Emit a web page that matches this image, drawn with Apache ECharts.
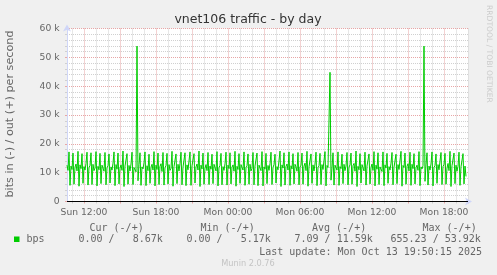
<!DOCTYPE html>
<html><head><meta charset="utf-8">
<script src="https://cdn.jsdelivr.net/npm/echarts@6/dist/echarts.min.js"></script>
<style>html,body{margin:0;padding:0;background:#F0F0F0}#c{width:497px;height:275px}</style>
</head><body><div id="c"></div>
<script>
// time in minutes since Sun 00:00
const startMinute = 635;   // Sun 10:35
const stepMinutes = 5;
const axisEndMinute = 2640; // Mon 20:00
// out traffic, k bits per second, one value per 5-minute step
const outK = [
12.6,10.8,17.2,5.6,12.3,11.1,16.8,6.0,11.9,13.0,10.6,17.4,5.3,12.7,11.4,16.6,6.3,12.1,10.9,13.2,
17.1,5.7,11.8,12.5,16.9,5.9,12.9,10.7,11.6,17.3,5.4,12.2,11.0,16.7,6.2,12.6,13.1,10.5,17.0,5.8,
11.7,12.4,16.5,6.4,12.0,10.9,13.3,17.2,5.5,12.8,11.2,16.8,6.1,11.5,12.7,10.8,17.5,5.2,12.3,11.9,
16.6,6.0,12.5,10.6,13.0,17.1,5.9,11.8,12.2,10.3,53.9,7.2,12.8,16.9,5.6,12.0,11.3,13.4,17.2,5.5,
12.4,10.7,16.4,6.3,11.9,12.9,10.9,17.3,5.4,12.6,11.1,16.8,5.9,12.2,13.1,10.4,17.0,5.7,11.7,12.5,
16.7,6.1,12.8,10.8,11.5,17.4,5.3,12.1,11.6,16.5,6.2,12.9,10.6,13.2,17.1,5.8,11.9,12.3,16.9,5.5,
12.7,11.0,10.5,17.2,5.6,12.4,11.8,16.6,6.4,12.0,13.0,10.9,17.5,5.2,12.6,11.3,16.8,6.0,11.6,12.8,
10.7,17.0,5.9,12.3,11.2,16.4,6.2,12.9,13.3,10.6,17.3,5.4,11.8,12.5,16.7,5.8,12.1,10.8,13.1,17.1,
5.7,12.6,11.4,16.9,6.1,11.9,12.7,10.5,17.4,5.3,12.2,11.1,16.6,6.3,12.8,13.0,10.9,17.2,5.6,11.7,
12.4,16.5,6.0,12.9,10.6,11.5,17.0,5.8,12.3,11.9,16.8,5.5,12.6,13.2,10.7,17.3,5.4,12.0,11.2,16.7,
6.2,12.5,10.8,13.1,17.1,5.9,11.8,12.8,16.4,6.4,12.1,11.0,10.4,17.5,5.2,12.7,11.6,16.9,5.7,12.2,
13.0,10.9,17.2,5.6,12.4,11.3,16.6,6.1,12.9,12.0,10.5,17.0,5.8,11.9,12.6,16.8,6.0,12.3,13.3,10.7,
17.4,5.3,12.0,11.5,16.5,6.3,12.7,10.6,13.0,17.1,5.5,11.7,12.4,16.7,5.9,12.8,11.1,10.8,17.3,5.4,
12.5,11.8,12.2,44.8,7.4,11.6,16.9,5.7,12.6,13.1,10.9,17.2,5.6,12.1,11.4,16.4,6.2,12.9,10.7,12.3,
17.0,5.8,11.9,12.7,16.8,6.0,12.4,13.2,10.5,17.5,5.2,12.2,11.0,16.6,6.4,12.8,11.7,10.6,17.1,5.7,
12.3,12.9,16.5,6.1,11.8,13.0,10.8,17.3,5.4,12.6,11.2,16.9,5.9,12.0,12.5,10.4,17.2,5.5,12.7,11.6,
16.7,6.3,12.1,10.9,13.3,17.0,5.8,11.9,12.4,16.4,6.2,12.8,11.1,10.7,17.4,5.3,12.5,11.8,16.8,6.0,
12.2,13.1,10.6,17.1,5.6,12.9,11.4,16.6,6.1,11.7,12.6,10.8,17.3,5.5,12.0,11.3,12.4,53.9,7.0,12.7,
16.9,5.7,12.3,10.9,13.0,17.2,5.4,11.8,12.5,16.5,6.3,12.8,11.0,10.6,17.0,5.9,12.1,12.9,16.7,6.0,
11.6,13.2,10.7,17.4,5.2,12.4,11.9,16.8,6.2,12.6,10.5,12.2,17.1,5.6,12.0,11.5,16.6,6.1,12.3,8.7
];
const xLabelMinutes = [720, 1080, 1440, 1800, 2160, 2520];
const xLabelTexts = ['Sun 12:00', 'Sun 18:00', 'Mon 00:00', 'Mon 06:00', 'Mon 12:00', 'Mon 18:00'];
const yMaxK = 60;
const yStepK = 10;
const title = 'vnet106 traffic - by day';
const yName = 'bits in (-) / out (+) per second';
const seriesName = 'bps';
const legendHeaders = ['Cur (-/+)', 'Min (-/+)', 'Avg (-/+)', 'Max (-/+)'];
const legendValues = ['0.00 /   8.67k', '0.00 /   5.17k', '7.09 / 11.59k', '655.23 / 53.92k'];
const lastUpdate = 'Last update: Mon Oct 13 19:50:15 2025';
const footer = 'Munin 2.0.76';
const watermark = 'RRDTOOL / TOBI OETIKER';

const hourTicks = [];
const majorTicks = [];
for (let m = Math.ceil(startMinute / 60) * 60; m <= axisEndMinute; m += 60) {
  if (m % 180 === 0) majorTicks.push(m); else hourTicks.push(m);
}

const FONT = 'DejaVu Sans';
const MONO = 'DejaVu Sans Mono';
const TXT = '#666666';
const AXISC = '#CFD6F8';
const GRIDC = '#d0d0d0';
const MGRIDC = '#e8a6a6';
const LINEC = '#00CC00';

const chart = echarts.init(document.getElementById('c'), null, {renderer: 'canvas'});
const legendHeaderX = [89.5, 200.5, 312, 422.5];
const legendValueX = [78.5, 186.5, 294.5, 390.5];
const graphics = [
  {type: 'text', x: 248, y: 20, style: {text: title, font: '12.5px "' + FONT + '"', fill: '#333333', textAlign: 'center', textVerticalAlign: 'middle'}},
  {type: 'text', x: 10.5, y: 114, rotation: Math.PI / 2, style: {text: yName, font: '11.2px "' + FONT + '"', fill: TXT, textAlign: 'center', textVerticalAlign: 'middle'}},
  {type: 'text', x: 488.5, y: 5, rotation: -Math.PI / 2, style: {text: watermark, font: '7.6px "' + FONT + '"', fill: '#cccccc', textAlign: 'left', textVerticalAlign: 'middle'}},
  {type: 'rect', shape: {x: 14, y: 236.5, width: 5.5, height: 5.5}, style: {fill: LINEC}},
  {type: 'text', x: 26.5, y: 239.5, style: {text: seriesName, font: '10px "' + MONO + '"', fill: TXT, textVerticalAlign: 'middle'}},
  {type: 'text', x: 482, y: 252, style: {text: lastUpdate, font: '10px "' + MONO + '"', fill: TXT, textAlign: 'right', textVerticalAlign: 'middle'}},
  {type: 'text', x: 248, y: 264, style: {text: footer, font: '8.2px "' + FONT + '"', fill: '#c4c4c4', textAlign: 'center', textVerticalAlign: 'middle'}}
];
legendHeaders.forEach((t, i) => graphics.push({type: 'text', x: legendHeaderX[i], y: 228, style: {text: t, font: '10px "' + MONO + '"', fill: TXT, textVerticalAlign: 'middle'}}));
legendValues.forEach((t, i) => graphics.push({type: 'text', x: legendValueX[i], y: 239.5, style: {text: t, font: '10px "' + MONO + '"', fill: TXT, textVerticalAlign: 'middle'}}));

chart.setOption({
  animation: false,
  backgroundColor: '#F0F0F0',
  grid: {left: 67, right: 29, top: 28.5, bottom: 73.5, show: true, backgroundColor: '#FFFFFF', borderWidth: 0},
  xAxis: [
    {
      type: 'value', min: startMinute, max: axisEndMinute, position: 'bottom',
      axisLine: {show: true, onZero: false, lineStyle: {color: AXISC, width: 1}, symbol: ['none', 'arrow'], symbolSize: [6, 7], symbolOffset: [0, 4]},
      axisTick: {show: true, customValues: hourTicks, length: 2, inside: false, lineStyle: {color: GRIDC}},
      axisLabel: {show: false},
      splitLine: {show: true, lineStyle: {color: GRIDC, type: [1, 1], width: 1}}
    },
    {
      type: 'value', min: startMinute, max: axisEndMinute, position: 'bottom',
      axisLine: {show: false},
      axisTick: {show: true, customValues: majorTicks, length: 2, lineStyle: {color: MGRIDC}},
      axisLabel: {show: true, customValues: xLabelMinutes, margin: 6.5, color: TXT, fontFamily: FONT, fontSize: 9.2,
        formatter: v => xLabelTexts[xLabelMinutes.indexOf(v)] || ''},
      splitLine: {show: true, lineStyle: {color: MGRIDC, type: [1, 1], width: 1}}
    }
  ],
  yAxis: {
    type: 'value', min: 0, max: yMaxK, interval: yStepK,
    axisLine: {show: true, lineStyle: {color: AXISC, width: 1}, symbol: ['none', 'arrow'], symbolSize: [6, 7], symbolOffset: [0, 4]},
    axisTick: {show: true, length: 2, lineStyle: {color: MGRIDC}},
    minorTick: {show: true, splitNumber: 5, length: 2, lineStyle: {color: GRIDC}},
    axisLabel: {margin: 7.5, color: TXT, fontFamily: FONT, fontSize: 9.2, formatter: v => v === 0 ? '0' : v + ' k'},
    splitLine: {show: true, lineStyle: {color: MGRIDC, type: [1, 1], width: 1}},
    minorSplitLine: {show: true, lineStyle: {color: GRIDC, type: [1, 1], width: 1}}
  },
  series: [{
    name: seriesName, type: 'line', xAxisIndex: 0, yAxisIndex: 0,
    showSymbol: false, symbol: 'none',
    lineStyle: {color: LINEC, width: 1},
    data: outK.map((v, i) => [startMinute + i * stepMinutes, v]),
    markLine: {silent: true, symbol: ['none', 'none'], label: {show: false},
      lineStyle: {color: '#000000', type: 'solid', width: 1}, data: [{yAxis: 0}]},
    z: 3
  }],
  graphic: graphics
});
</script></body></html>
